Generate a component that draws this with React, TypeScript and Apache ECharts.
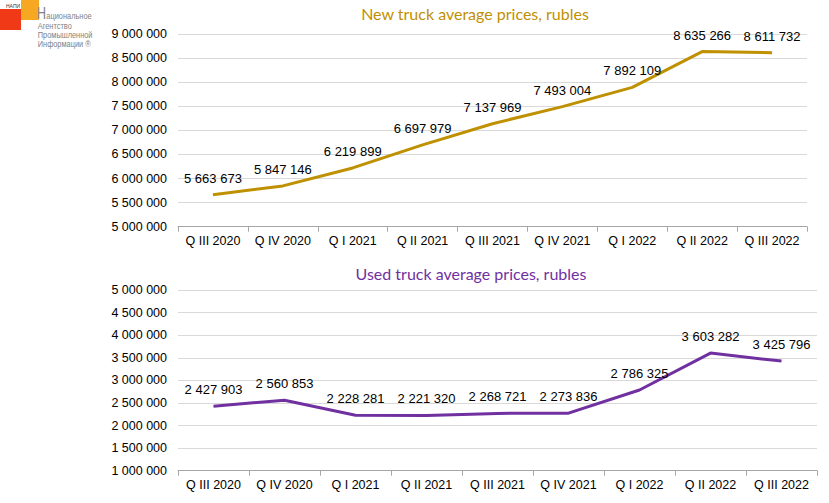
import React, { useEffect, useRef } from "react";
import * as echarts from "echarts";

const categories = [
  "Q III 2020",
  "Q IV 2020",
  "Q I 2021",
  "Q II 2021",
  "Q III 2021",
  "Q IV 2021",
  "Q I 2022",
  "Q II 2022",
  "Q III 2022",
];
const newPrices = [5663673, 5847146, 6219899, 6697979, 7137969, 7493004, 7892109, 8635266, 8611732];
const usedPrices = [2427903, 2560853, 2228281, 2221320, 2268721, 2273836, 2786325, 3603282, 3425796];

const newTitle = "New truck average prices, rubles";
const usedTitle = "Used truck average prices, rubles";
const logoLines = ["ациональное", "Агентство", "Промышленной", "Информации ®"];

const fmt = (v: number | string) => String(v).replace(/\B(?=(\d{3})+(?!\d))/g, " ");

const AXIS_FONT = "'Liberation Sans', Arial, sans-serif";
const TITLE_FONT = "Lato, 'Open Sans', sans-serif";
const LOGO_FONT = "'Liberation Sans', sans-serif";

export default function App() {
  const ref = useRef<HTMLDivElement>(null);
  useEffect(() => {
    if (!ref.current) return;
    const chart = echarts.init(ref.current, undefined, { renderer: "svg" });
    const catAxis = (gridIndex: number) => ({
      type: "category",
      gridIndex,
      data: categories,
      boundaryGap: true,
      axisLine: { show: true, lineStyle: { color: "#A6A6A6", width: 1 } },
      axisTick: { show: true, alignWithLabel: false, length: 5, lineStyle: { color: "#A6A6A6" } },
      axisLabel: { color: "#000", fontSize: 12.5, fontFamily: AXIS_FONT, margin: 8, interval: 0 },
      splitLine: { show: false },
    });
    const valAxis = (gridIndex: number, min: number, max: number) => ({
      type: "value",
      gridIndex,
      min,
      max,
      interval: 500000,
      axisLine: { show: false },
      axisTick: { show: false },
      axisLabel: {
        color: "#000",
        fontSize: 12.5,
        fontFamily: AXIS_FONT,
        margin: 11,
        formatter: (v: number) => fmt(v),
      },
      splitLine: { show: true, lineStyle: { color: "#D9D9D9", width: 1 } },
    });
    const lineSeries = (idx: number, data: number[], color: string) => ({
      type: "line",
      xAxisIndex: idx,
      yAxisIndex: idx,
      data,
      symbol: "circle",
      symbolSize: 0.1,
      showSymbol: true,
      lineStyle: { color, width: 3 },
      itemStyle: { color },
      label: {
        show: true,
        position: "top",
        distance: 10,
        color: "#000",
        fontSize: 13,
        fontFamily: AXIS_FONT,
        formatter: (p: any) => fmt(p.value),
      },
      emphasis: { disabled: true },
    });
    chart.setOption({
      animation: false,
      backgroundColor: "#fff",
      grid: [
        { left: 178, top: 34, width: 629, height: 192.7 },
        { left: 178, top: 290, width: 639, height: 180.7 },
      ],
      xAxis: [catAxis(0), catAxis(1)],
      yAxis: [valAxis(0, 5000000, 9000000), valAxis(1, 1000000, 5000000)],
      series: [lineSeries(0, newPrices, "#BF9000"), lineSeries(1, usedPrices, "#7030A0")],
      graphic: [
        {
          type: "text",
          x: 475,
          y: 13,
          style: {
            text: newTitle,
            fill: "#BF9000",
            font: `16px ${TITLE_FONT}`,
            textAlign: "center",
            textVerticalAlign: "middle",
          },
        },
        {
          type: "text",
          x: 471,
          y: 273,
          style: {
            text: usedTitle,
            fill: "#7030A0",
            font: `16px ${TITLE_FONT}`,
            textAlign: "center",
            textVerticalAlign: "middle",
          },
        },
        { type: "rect", shape: { x: 0, y: 9, width: 21, height: 21 }, style: { fill: "#F03A17" } },
        { type: "rect", shape: { x: 21, y: 0, width: 18, height: 20 }, style: { fill: "#F7A823" } },
        {
          type: "text",
          x: 6,
          y: 6,
          style: { text: "НАПИ", fill: "#333", font: `5px ${AXIS_FONT}`, textVerticalAlign: "middle" },
        },
        {
          type: "group",
          x: 37,
          y: 0,
          scaleX: 0.78,
          children: [
            {
              type: "text",
              x: 0,
              y: 21,
              style: { text: "Н", fill: "#7F7F7F", font: `16px ${LOGO_FONT}`, textVerticalAlign: "bottom" },
            },
            ...logoLines.map((t, i) => ({
              type: "text",
              x: i === 0 ? 12 : 1,
              y: 16 + i * 9.3,
              style: { text: t, fill: "#7F7F7F", font: `9.5px ${LOGO_FONT}`, textVerticalAlign: "middle" },
            })),
          ],
        },
      ],
    });
    return () => chart.dispose();
  }, []);
  return (
    <div
      ref={ref}
      style={{ position: "absolute", left: 0, top: 0, width: 829, height: 503 }}
    />
  );
}
